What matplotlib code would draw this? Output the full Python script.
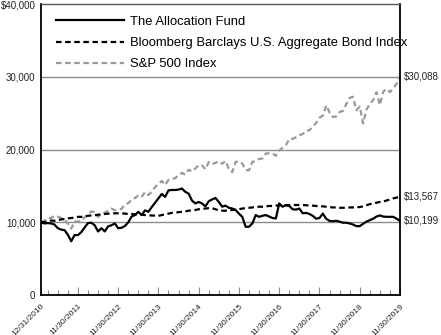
import numpy as np
import matplotlib
matplotlib.use("Agg")
import matplotlib.pyplot as plt

plt.rcParams['font.family'] = ['Liberation Sans', 'DejaVu Sans']

# month-end values, 12/31/2010 .. 11/30/2019 (108 points)
fund = [10000, 9850, 9900, 9850, 9700, 9200, 9000, 8930, 8300, 7400, 8250, 8250,
        8650, 9300, 9900, 9950, 9600, 8750, 9200, 8750, 9450, 9600, 9850, 9200,
        9250, 9500, 10000, 10800, 11000, 11450, 11000, 11650, 11450, 12100, 12700, 13300,
        13900, 13500, 14400, 14450, 14450, 14500, 14650, 14200, 13950, 13000, 12600, 12800,
        12600, 12200, 12900, 13150, 13350, 12800, 12150, 12300, 12000, 11900, 11700, 11200,
        10750, 9390, 9400, 9850, 11000, 10760, 10900, 11000, 10800, 10600, 10540, 12600,
        12150, 12370, 12250, 11800, 11750, 11900, 11250, 11300, 11150, 10900, 10500, 10600,
        11200, 10500, 10200, 10150, 10220, 10100, 9950, 9950, 9850, 9700, 9480, 9480,
        9800, 10100, 10300, 10500, 10800, 10950, 10800, 10760, 10760, 10760, 10500, 10199]

bond = [10000, 10050, 10100, 10250, 10220, 10300, 10400, 10450, 10550, 10600, 10650, 10760,
        10750, 10800, 10900, 10950, 10980, 11050, 11100, 11150, 11200, 11200, 11250, 11250,
        11250, 11200, 11150, 11150, 11100, 11050, 11050, 11000, 10950, 10950, 10920, 10900,
        11000, 11100, 11200, 11300, 11350, 11400, 11450, 11500, 11600, 11650, 11700, 11800,
        11850, 11900, 11950, 11950, 11800, 11650, 11600, 11600, 11650, 11700, 11750, 11800,
        11900, 11950, 12000, 12050, 12100, 12150, 12150, 12200, 12250, 12250, 12300, 12350,
        12350, 12350, 12350, 12380, 12380, 12380, 12380, 12350, 12300, 12300, 12250, 12200,
        12200, 12150, 12100, 12050, 12050, 12000, 12000, 12000, 12050, 12050, 12100, 12100,
        12200, 12350, 12500, 12600, 12700, 12800, 12850, 13000, 13150, 13300, 13400, 13567]

sp500 = [10000, 10240, 10590, 10590, 10900, 10780, 10600, 10390, 9820, 9130, 10130, 10110,
         10210, 10670, 11130, 11500, 11420, 10740, 11180, 11330, 11590, 11890, 11670, 11740,
         11850, 12460, 12630, 13100, 13350, 13670, 13480, 14170, 13760, 14190, 14840, 15290,
         15680, 15140, 15830, 15960, 16080, 16460, 16800, 16570, 17230, 16990, 17400, 17870,
         17830, 17290, 18290, 18000, 18170, 18400, 18050, 18430, 17310, 16890, 18310, 18370,
         18080, 17180, 17160, 18320, 18390, 18720, 18770, 19460, 19490, 19490, 19140, 19850,
         20240, 20620, 21440, 21470, 21690, 21990, 22130, 22580, 22650, 23120, 23660, 24390,
         24660, 26070, 25110, 24470, 24560, 25160, 25310, 26250, 27110, 27260, 25400, 25920,
         23580, 25470, 26280, 26790, 27880, 26110, 27950, 28350, 27900, 28420, 29040, 30088]

labels = ["The Allocation Fund", "Bloomberg Barclays U.S. Aggregate Bond Index", "S&P 500 Index"]
tick_labels = ["12/31/2010", "11/30/2011", "11/30/2012", "11/30/2013", "11/30/2014",
               "11/30/2015", "11/30/2016", "11/30/2017", "11/30/2018", "11/30/2019"]
end_labels = ["$10,199", "$13,567", "$30,088"]

months = np.arange(len(fund))

fig = plt.figure(figsize=(4.41, 3.35), dpi=100)
ax = fig.add_axes([0.093, 0.119, 0.814, 0.869])

for v in [10000, 20000, 30000]:
    ax.axhline(v, color='#8c8c8c', lw=1.0, zorder=1)

ax.plot(months, fund, color='black', lw=1.6, label=labels[0], zorder=4)
ax.plot(months, bond, color='black', lw=1.6, dashes=(2.5, 1.6), label=labels[1], zorder=3)
ax.plot(months, sp500, color='#9a9a9a', lw=1.6, dashes=(2.5, 1.6), label=labels[2], zorder=2)

ax.set_xlim(0, 107)
ax.set_ylim(0, 40000)
ax.set_yticks([0, 10000, 20000, 30000, 40000])
ax.set_yticklabels(["0", "10,000", "20,000", "30,000", "$40,000"], fontsize=7, color='#222222')
ax.tick_params(axis='y', length=0, pad=4)

major = [0] + [11 + 12 * i for i in range(9)]
minor = [m for m in range(2, 107, 3) if m not in major]
ax.set_xticks(major)
ax.set_xticks(minor, minor=True)
ax.set_xticklabels(tick_labels, rotation=45, ha='right', rotation_mode='anchor',
                   fontsize=6.0, color='#222222')
ax.tick_params(axis='x', which='major', direction='in', length=6, width=0.8,
               color='#8c8c8c', pad=5.5)
ax.tick_params(axis='x', which='minor', direction='in', length=3.5, width=0.8,
               color='#8c8c8c')

for s in ['left', 'bottom', 'right']:
    ax.spines[s].set_linewidth(1.3)
    ax.spines[s].set_color('black')
ax.spines['top'].set_linewidth(1.0)
ax.spines['top'].set_color('#555555')

ends = [fund[-1], bond[-1], sp500[-1]]
for val, txt in zip(ends, end_labels):
    ax.text(1.01, val, txt, transform=ax.get_yaxis_transform(), fontsize=7,
            va='center', ha='left', color='#222222')

ax.legend(loc='upper left', bbox_to_anchor=(0.01, 1.0), frameon=False, fontsize=9.4,
          handlelength=5.2, handletextpad=0.45, labelspacing=0.7)

fig.savefig("out.png", dpi=100)
